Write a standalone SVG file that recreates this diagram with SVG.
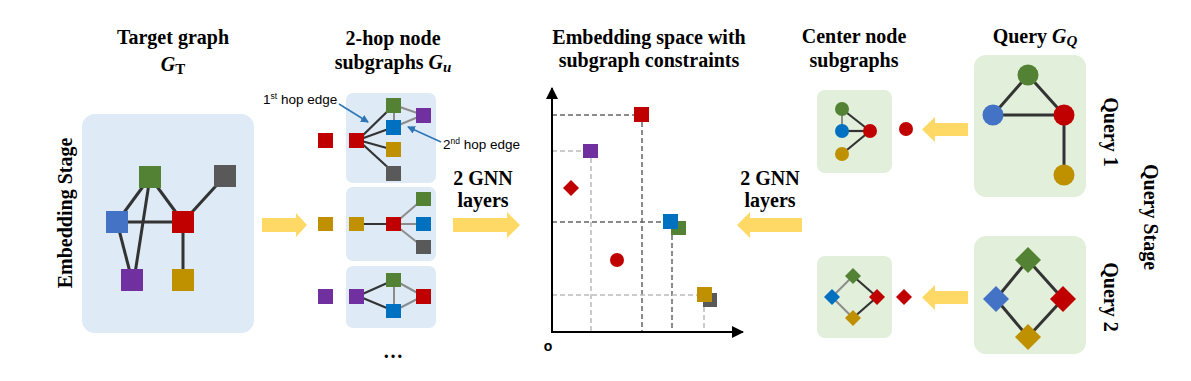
<svg xmlns="http://www.w3.org/2000/svg" width="1191" height="381" viewBox="0 0 1191 381">
<defs>
<style>
.t{font-family:"Liberation Serif","Times New Roman",serif;font-weight:bold;font-size:20px;fill:#000;text-anchor:middle}
.m{font-family:"Liberation Serif",serif;font-style:italic;font-weight:bold}
.s{font-family:"Liberation Sans",Arial,sans-serif;font-size:13.5px;fill:#000}
.bb{fill:#DEEAF6}
.gb{fill:#E2EFDA}
.e{stroke:#333;stroke-width:3;fill:none}
.e2{stroke:#333;stroke-width:2.2;fill:none}
.l{stroke:#8C8C8C;stroke-width:2;fill:none}
.dd{stroke:#666;stroke-width:1.5;stroke-dasharray:5,3;fill:none}
.dl{stroke:#BBB;stroke-width:1.5;stroke-dasharray:5,3;fill:none}
.ya{fill:#FFD966}
.G{fill:#548235}.K{fill:#595959}.B{fill:#4472C4}.B2{fill:#0070C0}.R{fill:#C00000}.P{fill:#7030A0}.Y{fill:#BF9000}
</style>
<marker id="ah" markerWidth="8" markerHeight="8" refX="7" refY="4" orient="auto" markerUnits="userSpaceOnUse">
<path d="M0,0 L8,4 L0,8 Z" fill="#2E75B6"/>
</marker>
<marker id="ak" markerWidth="12" markerHeight="12" refX="11" refY="6" orient="auto" markerUnits="userSpaceOnUse">
<path d="M0,0 L12,6 L0,12 Z" fill="#000"/>
</marker>
</defs>
<rect width="1191" height="381" fill="#fff"/>

<!-- titles -->
<g id="titles">
<text class="t" x="173" y="44">Target graph</text>
<text class="t" x="173" y="71"><tspan class="m">G</tspan><tspan font-size="15" dy="3">T</tspan></text>
<text class="t" x="393" y="45">2-hop node</text>
<text class="t" x="393" y="69">subgraphs <tspan class="m">G</tspan><tspan class="m" font-size="15" dy="3">u</tspan></text>
<text class="t" x="649" y="44">Embedding space with</text>
<text class="t" x="649" y="67">subgraph constraints</text>
<text class="t" x="854" y="43">Center node</text>
<text class="t" x="854" y="67">subgraphs</text>
<text class="t" x="1035" y="43">Query <tspan class="m">G</tspan><tspan class="m" font-size="15" dy="3">Q</tspan></text>
<text class="t" transform="translate(72,213) rotate(-90)">Embedding Stage</text>
<text class="t" transform="translate(1104,132) rotate(90)">Query 1</text>
<text class="t" transform="translate(1144,217) rotate(90)">Query Stage</text>
<text class="t" transform="translate(1104,297) rotate(90)">Query 2</text>
<text class="t" x="483" y="185">2 GNN</text>
<text class="t" x="483" y="207">layers</text>
<text class="t" x="770" y="185">2 GNN</text>
<text class="t" x="770" y="207">layers</text>
</g>

<!-- target graph -->
<g id="target-graph">
<rect class="bb" x="82" y="114" width="172" height="219" rx="13"/>
<g class="e">
<line x1="150" y1="177" x2="117" y2="222"/>
<line x1="150" y1="177" x2="183" y2="222"/>
<line x1="150" y1="177" x2="134" y2="280"/>
<line x1="117" y1="222" x2="183" y2="222"/>
<line x1="117" y1="222" x2="132" y2="280"/>
<line x1="183" y1="222" x2="225" y2="176"/>
<line x1="183" y1="222" x2="183" y2="280"/>
</g>
<rect class="G" x="139" y="166" width="22" height="22"/>
<rect class="K" x="214" y="165" width="22" height="22"/>
<rect class="B" x="106" y="211" width="22" height="22"/>
<rect class="R" x="172" y="211" width="22" height="22"/>
<rect class="P" x="121" y="269" width="22" height="22"/>
<rect class="Y" x="172" y="269" width="22" height="22"/>
</g>

<!-- subgraph 1 -->
<g id="subgraph-red">
<rect class="R" x="318" y="133" width="15" height="15"/>
<rect class="bb" x="346" y="93" width="90" height="90" rx="7"/>
<g class="l">
<line x1="394" y1="105" x2="394" y2="127"/>
<line x1="394" y1="105" x2="423" y2="115"/>
<line x1="394" y1="127" x2="423" y2="115"/>
</g>
<g class="e2">
<line x1="358" y1="140" x2="394" y2="105"/>
<line x1="358" y1="140" x2="394" y2="127"/>
<line x1="358" y1="140" x2="394" y2="150"/>
<line x1="358" y1="140" x2="394" y2="173"/>
</g>
<rect class="R" x="349" y="133" width="15" height="15"/>
<rect class="G" x="386" y="98" width="15" height="15"/>
<rect class="B2" x="386" y="120" width="15" height="15"/>
<rect class="Y" x="386" y="142" width="15" height="15"/>
<rect class="K" x="386" y="166" width="15" height="15"/>
<rect class="P" x="416" y="108" width="15" height="15"/>
</g>

<!-- subgraph 2 -->
<g id="subgraph-gold">
<rect class="Y" x="318" y="217" width="15" height="14"/>
<rect class="bb" x="346" y="187" width="90" height="74" rx="7"/>
<g class="l">
<line x1="394" y1="224" x2="423" y2="199"/>
<line x1="394" y1="224" x2="423" y2="224"/>
<line x1="394" y1="224" x2="423" y2="247"/>
</g>
<line class="e2" x1="356" y1="224" x2="394" y2="224"/>
<rect class="Y" x="349" y="217" width="15" height="14"/>
<rect class="R" x="386" y="217" width="15" height="14"/>
<rect class="G" x="416" y="192" width="15" height="14"/>
<rect class="B2" x="416" y="217" width="15" height="14"/>
<rect class="K" x="416" y="240" width="15" height="14"/>
</g>

<!-- subgraph 3 -->
<g id="subgraph-purple">
<rect class="P" x="318" y="289" width="15" height="15"/>
<rect class="bb" x="346" y="266" width="90" height="62" rx="7"/>
<g class="l">
<line x1="394" y1="280" x2="394" y2="311"/>
<line x1="394" y1="280" x2="423" y2="296"/>
<line x1="394" y1="311" x2="423" y2="296"/>
</g>
<g class="e2">
<line x1="358" y1="296" x2="394" y2="280"/>
<line x1="358" y1="296" x2="394" y2="311"/>
</g>
<rect class="P" x="349" y="289" width="15" height="15"/>
<rect class="G" x="386" y="273" width="15" height="14"/>
<rect class="B2" x="386" y="304" width="15" height="14"/>
<rect class="R" x="416" y="289" width="15" height="15"/>
<text x="393" y="358" font-family="Liberation Serif,serif" font-size="20" font-weight="bold" text-anchor="middle">…</text>
</g>

<!-- callouts -->
<g id="callouts">
<text class="s" x="263" y="104">1<tspan font-size="8.5" dy="-5">st</tspan><tspan dy="5"> hop edge</tspan></text>
<text class="s" x="443" y="149">2<tspan font-size="8.5" dy="-5">nd</tspan><tspan dy="5"> hop edge</tspan></text>
<line x1="339" y1="104" x2="368" y2="122" stroke="#2E75B6" stroke-width="1.5" marker-end="url(#ah)"/>
<line x1="441" y1="142" x2="408" y2="127" stroke="#2E75B6" stroke-width="1.5" marker-end="url(#ah)"/>
</g>

<!-- embedding space -->
<g id="embedding-space">
<line class="dd" x1="552" y1="115" x2="634" y2="115"/>
<line class="dd" x1="642" y1="122" x2="642" y2="331"/>
<line class="dl" x1="552" y1="151" x2="583" y2="151"/>
<line class="dl" x1="591" y1="158" x2="591" y2="331"/>
<line class="dd" x1="552" y1="222" x2="663" y2="222"/>
<line class="dd" x1="672" y1="235" x2="672" y2="331"/>
<line class="dl" x1="552" y1="295" x2="697" y2="295"/>
<line class="dl" x1="704" y1="307" x2="704" y2="331"/>
<line x1="552" y1="333" x2="552" y2="88" stroke="#000" stroke-width="2" marker-end="url(#ak)"/>
<line x1="551" y1="332" x2="743" y2="332" stroke="#000" stroke-width="2" marker-end="url(#ak)"/>
<text x="548" y="351" font-family="Liberation Sans,Arial,sans-serif" font-size="14" font-weight="bold" text-anchor="middle">o</text>
<rect class="R" x="634" y="107" width="15" height="15"/>
<rect class="P" x="583" y="144" width="15" height="14"/>
<path class="R" d="M571,180 L579,188 L571,196 L563,188 Z"/>
<rect class="G" x="671" y="221" width="15" height="14"/>
<rect class="B2" x="663" y="214" width="15" height="15"/>
<circle class="R" cx="617" cy="260" r="7"/>
<rect class="K" x="703" y="293" width="14" height="14"/>
<rect class="Y" x="697" y="287" width="15" height="15"/>
</g>

<!-- center node subgraphs -->
<g id="center-q1">
<rect class="gb" x="817" y="90" width="75" height="83" rx="8"/>
<line class="l" x1="842" y1="109" x2="842" y2="131"/>
<g class="e2">
<line x1="842" y1="109" x2="870" y2="131"/>
<line x1="842" y1="131" x2="870" y2="131"/>
<line x1="842" y1="154" x2="870" y2="131"/>
</g>
<circle class="G" cx="842" cy="109" r="7"/>
<circle class="B2" cx="842" cy="131" r="7"/>
<circle class="R" cx="870" cy="131" r="7"/>
<circle class="Y" cx="842" cy="154" r="7"/>
<circle class="R" cx="906" cy="129" r="7"/>
</g>
<g id="center-q2">
<rect class="gb" x="817" y="256" width="75" height="82" rx="8"/>
<g class="l">
<line x1="853" y1="276" x2="832" y2="297"/>
<line x1="832" y1="297" x2="853" y2="318"/>
</g>
<g class="e2">
<line x1="853" y1="276" x2="877" y2="297"/>
<line x1="853" y1="318" x2="877" y2="297"/>
</g>
<path class="G" d="M853,268 L861,276 L853,284 L845,276 Z"/>
<path class="B2" d="M832,289 L840,297 L832,305 L824,297 Z"/>
<path class="R" d="M877,289 L885,297 L877,305 L869,297 Z"/>
<path class="Y" d="M853,310 L861,318 L853,326 L845,318 Z"/>
<path class="R" d="M904,289 L912,297 L904,305 L896,297 Z"/>
</g>

<!-- queries -->
<g id="query-1">
<rect class="gb" x="974" y="55" width="112" height="142" rx="12"/>
<g class="e">
<line x1="1028" y1="75" x2="993" y2="115"/>
<line x1="1028" y1="75" x2="1064" y2="115"/>
<line x1="993" y1="115" x2="1064" y2="115"/>
<line x1="1064" y1="115" x2="1064" y2="175"/>
</g>
<circle class="G" cx="1028" cy="75" r="10.5"/>
<circle class="B" cx="993" cy="115" r="10.5"/>
<circle class="R" cx="1064" cy="115" r="10.5"/>
<circle class="Y" cx="1064" cy="175" r="10.5"/>
</g>
<g id="query-2">
<rect class="gb" x="974" y="236" width="112" height="118" rx="12"/>
<g class="e">
<line x1="1028" y1="260" x2="996" y2="299"/>
<line x1="1028" y1="260" x2="1063" y2="299"/>
<line x1="996" y1="299" x2="1028" y2="337"/>
<line x1="1063" y1="299" x2="1028" y2="337"/>
</g>
<path class="G" d="M1028,247 L1041,260 L1028,273 L1015,260 Z"/>
<path class="B" d="M996,286 L1009,299 L996,312 L983,299 Z"/>
<path class="R" d="M1063,286 L1076,299 L1063,312 L1050,299 Z"/>
<path class="Y" d="M1028,324 L1041,337 L1028,350 L1015,337 Z"/>
</g>

<!-- connectors: big yellow arrows -->
<g id="connectors">
<path class="ya" d="M262,218 L296,218 L296,213 L307,225 L296,237 L296,232 L262,232 Z"/>
<path class="ya" d="M453,218 L507,218 L507,212 L520,225 L507,238 L507,232 L453,232 Z"/>
<path class="ya" d="M802,218 L750,218 L750,212 L737,225 L750,238 L750,232 L802,232 Z"/>
<path class="ya" d="M968,123 L935,123 L935,117 L922,129.5 L935,142 L935,136 L968,136 Z"/>
<path class="ya" d="M968,291 L935,291 L935,285 L922,297.5 L935,310 L935,304 L968,304 Z"/>
</g>
</svg>
